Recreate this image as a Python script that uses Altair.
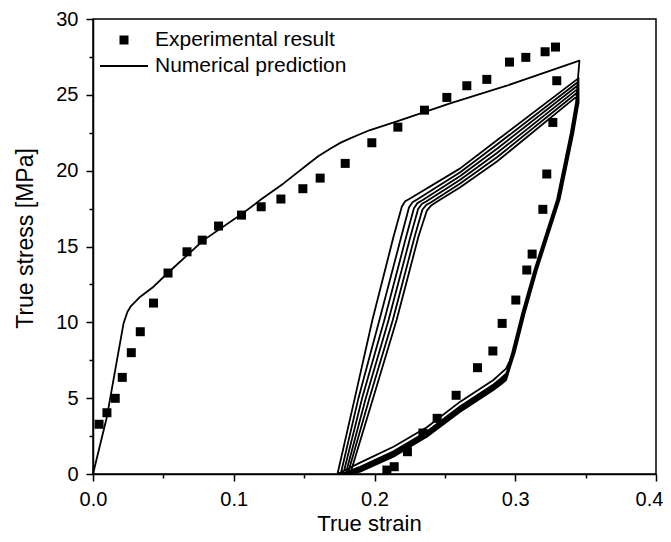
import altair as alt
import pandas as pd

FONT = "Liberation Sans"

# ---------------- data ----------------
series_names = ["Experimental result", "Numerical prediction"]

exp_strain = [0.0043, 0.0099, 0.0158, 0.0208, 0.0272, 0.0336, 0.0430, 0.0533, 0.0668, 0.0776,
              0.0892, 0.1055, 0.1195, 0.1335, 0.1491, 0.1614, 0.1792, 0.1981, 0.2166, 0.2355,
              0.2514, 0.2656, 0.2798, 0.2959, 0.3075, 0.3212, 0.3286, 0.3295, 0.3267, 0.3224,
              0.3196, 0.3120, 0.3082, 0.3004, 0.2907, 0.2841, 0.2732, 0.2580, 0.2445, 0.2344,
              0.2234, 0.2140, 0.2088]
exp_stress = [3.28, 4.04, 4.99, 6.37, 8.00, 9.38, 11.27, 13.25, 14.65, 15.42,
              16.35, 17.07, 17.62, 18.13, 18.81, 19.51, 20.48, 21.84, 22.87, 23.99,
              24.83, 25.60, 26.02, 27.16, 27.47, 27.84, 28.15, 25.93, 23.18, 19.78,
              17.45, 14.50, 13.45, 11.47, 9.93, 8.11, 7.01, 5.19, 3.67, 2.70,
              1.47, 0.48, 0.26]

load_strain = [0.0, 0.0099, 0.0158, 0.0217, 0.0245, 0.0268, 0.0336, 0.0430, 0.0533, 0.0786,
               0.1046, 0.1188, 0.1354, 0.1520, 0.1600, 0.1685, 0.1760, 0.1827, 0.1900, 0.1969,
               0.2159, 0.2348, 0.2537, 0.2940, 0.3456]
load_stress = [0.0, 3.78, 6.86, 9.93, 10.70, 11.05, 11.69, 12.35, 13.27, 15.42,
               17.07, 18.06, 19.16, 20.37, 20.95, 21.45, 21.85, 22.13, 22.42, 22.68,
               23.25, 23.85, 24.44, 25.60, 27.25]

unload_strain = [
    [0.3456, 0.3445, 0.3432, 0.3395, 0.3297, 0.3136, 0.3049, 0.2978, 0.2960, 0.2935, 0.2895, 0.2845, 0.2609, 0.2372, 0.2135, 0.1898, 0.1737],
    [0.3450, 0.3438, 0.3398, 0.3300, 0.3139, 0.3052, 0.2981, 0.2960, 0.2935, 0.2895, 0.2845, 0.2609, 0.2372, 0.2135, 0.1898, 0.1760],
    [0.3450, 0.3441, 0.3401, 0.3303, 0.3142, 0.3055, 0.2984, 0.2960, 0.2935, 0.2895, 0.2845, 0.2609, 0.2372, 0.2135, 0.1898, 0.1778],
    [0.3450, 0.3444, 0.3404, 0.3306, 0.3145, 0.3058, 0.2987, 0.2960, 0.2935, 0.2895, 0.2845, 0.2609, 0.2372, 0.2135, 0.1898, 0.1795],
    [0.3450, 0.3447, 0.3407, 0.3309, 0.3148, 0.3061, 0.2990, 0.2960, 0.2935, 0.2895, 0.2845, 0.2609, 0.2372, 0.2135, 0.1898, 0.1810],
    [0.3450, 0.3450, 0.3410, 0.3312, 0.3151, 0.3064, 0.2993, 0.2960, 0.2935, 0.2895, 0.2845, 0.2609, 0.2372, 0.2135, 0.1898, 0.1827],
    [0.3450, 0.3450, 0.3413, 0.3315, 0.3154, 0.3067, 0.2996, 0.2960, 0.2935, 0.2895, 0.2845, 0.2609, 0.2372, 0.2135, 0.1898, 0.1845],
]
unload_stress = [
    [27.25, 26.00, 24.50, 22.50, 18.10, 13.45, 10.60, 8.00, 7.45, 6.95, 6.62, 6.20, 4.77, 3.08, 1.80, 0.75, 0.0],
    [26.10, 24.50, 22.50, 18.10, 13.45, 10.60, 8.00, 7.22, 6.61, 6.28, 5.90, 4.47, 2.80, 1.50, 0.47, 0.0],
    [25.88, 24.50, 22.50, 18.10, 13.45, 10.60, 8.00, 7.17, 6.52, 6.20, 5.83, 4.40, 2.73, 1.43, 0.41, 0.0],
    [25.66, 24.50, 22.50, 18.10, 13.45, 10.60, 8.00, 7.11, 6.44, 6.12, 5.75, 4.32, 2.66, 1.35, 0.34, 0.0],
    [25.44, 24.50, 22.50, 18.10, 13.45, 10.60, 8.00, 7.06, 6.36, 6.04, 5.68, 4.25, 2.59, 1.28, 0.28, 0.0],
    [25.22, 24.50, 22.50, 18.10, 13.45, 10.60, 8.00, 7.00, 6.28, 5.96, 5.61, 4.18, 2.53, 1.21, 0.21, 0.0],
    [25.00, 24.50, 22.50, 18.10, 13.45, 10.60, 8.00, 6.95, 6.20, 5.88, 5.54, 4.11, 2.46, 1.14, 0.15, 0.0],
]

reload_strain = [
    [0.1737, 0.1860, 0.1985, 0.2135, 0.2194, 0.2218, 0.2253, 0.2609, 0.2870, 0.3450],
    [0.1760, 0.1886, 0.2035, 0.2190, 0.2245, 0.2270, 0.2305, 0.2609, 0.2870, 0.3450],
    [0.1778, 0.1912, 0.2070, 0.2225, 0.2280, 0.2305, 0.2340, 0.2609, 0.2870, 0.3450],
    [0.1795, 0.1938, 0.2100, 0.2255, 0.2310, 0.2336, 0.2370, 0.2609, 0.2870, 0.3450],
    [0.1810, 0.1964, 0.2130, 0.2285, 0.2340, 0.2367, 0.2405, 0.2609, 0.2870, 0.3450],
    [0.1827, 0.1990, 0.2157, 0.2312, 0.2372, 0.2400, 0.2443, 0.2609, 0.2870, 0.3450],
]
reload_stress = [
    [0.0, 5.0, 10.15, 15.64, 17.62, 17.98, 18.17, 20.15, 22.00, 26.10],
    [0.0, 5.0, 10.15, 15.64, 17.57, 17.92, 18.11, 19.90, 21.72, 25.88],
    [0.0, 5.0, 10.15, 15.64, 17.52, 17.86, 18.05, 19.65, 21.44, 25.66],
    [0.0, 5.0, 10.15, 15.64, 17.47, 17.80, 17.99, 19.40, 21.16, 25.44],
    [0.0, 5.0, 10.15, 15.64, 17.42, 17.74, 17.93, 19.15, 20.88, 25.22],
    [0.0, 5.0, 10.15, 15.64, 17.37, 17.68, 17.95, 18.90, 20.60, 25.00],
]

x_tick_values = [0.0, 0.05, 0.1, 0.15, 0.2, 0.25, 0.3, 0.35, 0.4]
y_tick_values = [0, 2.5, 5, 7.5, 10, 12.5, 15, 17.5, 20, 22.5, 25, 27.5, 30]

# legend glyphs: filled square for the measurements, thin bar standing for the line
legend_shapes = ["square", "M-5.33,-0.2L5.33,-0.2L5.33,0.2L-5.33,0.2Z"]

# ---------------- tables ----------------
segments = [(load_strain, load_stress)]
for k in range(len(reload_strain)):
    segments.append((unload_strain[k], unload_stress[k]))
    segments.append((reload_strain[k], reload_stress[k]))
segments.append((unload_strain[-1], unload_stress[-1]))

rows = []
for xs, ys in segments:
    for x, y in zip(xs, ys):
        rows.append({"strain": x, "stress": y, "step": len(rows)})
num_df = pd.DataFrame(rows)
exp_df = pd.DataFrame({"strain": exp_strain, "stress": exp_stress, "series": series_names[0]})

# ---------------- scales & axes ----------------
x_scale = alt.Scale(domain=[0, 0.4], nice=False, zero=False)
y_scale = alt.Scale(domain=[0, 30], nice=False, zero=False)

x_major = "round(datum.value * 20) % 2 == 0"
y_major = "datum.value % 5 == 0"

x_axis = alt.Axis(
    values=x_tick_values, format=".1f", grid=False,
    labelExpr=x_major + " ? datum.label : ''",
    tickSize={"condition": {"test": x_major, "value": 7}, "value": 4},
    labelOffset={"condition": {"test": "datum.value > 0.39", "value": -7}, "value": 0},
    labelFontSize=20, labelBaseline="alphabetic", labelPadding=24, labelFlush=False,
    title="True strain", titleFontSize=22, titleX=276, titleY=56,
    titleBaseline="alphabetic", titleAlign="center",
)
y_axis = alt.Axis(
    values=y_tick_values, format="d", grid=False,
    labelExpr=y_major + " ? datum.label : ''",
    tickSize={"condition": {"test": y_major, "value": 7}, "value": 4},
    labelFontSize=20, labelPadding=8, labelFlush=False,
    title="True stress [MPa]", titleFontSize=23, titleX=-61, titleY=219,
    titleAngle=-90, titleBaseline="alphabetic", titleAlign="center",
)

points = alt.Chart(exp_df).mark_point(
    filled=True, color="black", fill="black", strokeWidth=0, size=81, opacity=1,
).encode(
    x=alt.X("strain:Q", scale=x_scale, axis=x_axis),
    y=alt.Y("stress:Q", scale=y_scale, axis=y_axis),
    shape=alt.Shape(
        "series:N",
        scale=alt.Scale(domain=series_names, range=legend_shapes),
        legend=alt.Legend(
            title=None, orient="none", legendX=7, legendY=10.5, padding=0,
            labelFont=FONT, labelFontSize=21, labelColor="black", labelLimit=400,
            symbolOffset=13.5, labelOffset=20.5, rowPadding=4, symbolSize=81,
            symbolStrokeWidth=0, symbolFillColor="black",
        ),
    ),
)

lines = alt.Chart(num_df).mark_line(
    color="black", strokeWidth=1.8, strokeJoin="round"
).encode(
    x=alt.X("strain:Q", scale=x_scale, axis=x_axis),
    y=alt.Y("stress:Q", scale=y_scale, axis=y_axis),
    order=alt.Order("step:Q"),
)

chart = alt.layer(points, lines).properties(
    width=563, height=455,
    autosize=alt.AutoSizeParams(type="none"),
    padding={"left": 85, "top": 11, "right": 7, "bottom": 60},
    background="white",
).configure_view(
    stroke="black", strokeWidth=1.5
).configure_axis(
    domainColor="black", domainWidth=1.5, tickColor="black", tickWidth=1.5,
    labelColor="black", titleColor="black", labelFont=FONT, titleFont=FONT,
    titleFontWeight="normal",
)

chart.save("out.html", embed_options={"renderer": "svg", "actions": False})
